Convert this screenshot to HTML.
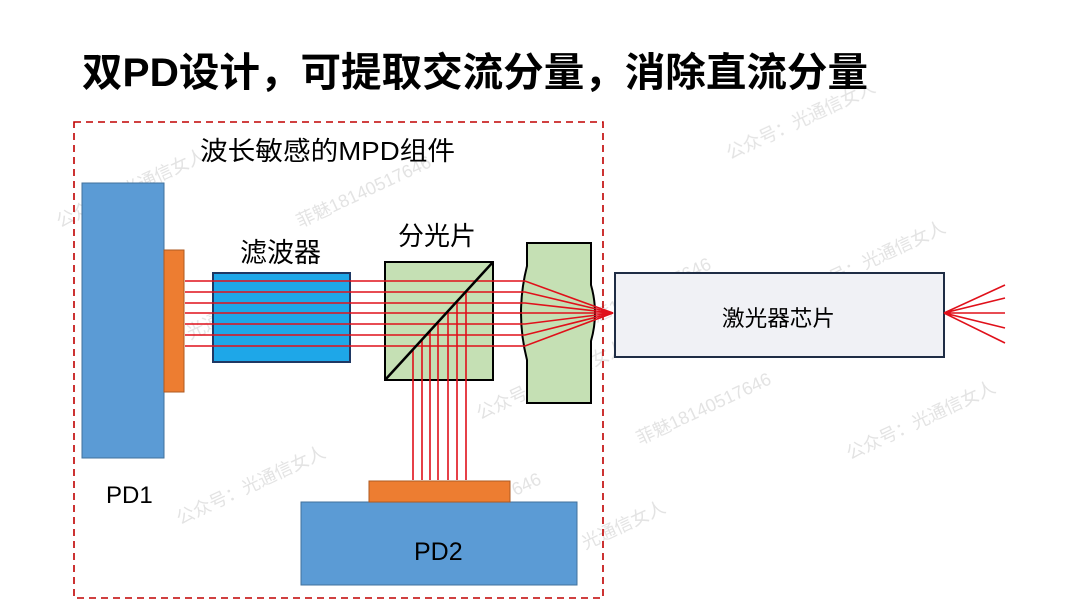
<!DOCTYPE html>
<html><head><meta charset="utf-8"><style>
html,body{margin:0;padding:0;background:#fff;}
svg{display:block;}
text{font-family:"Liberation Sans","Noto Sans CJK SC",sans-serif;}
</style></head><body>
<svg width="1080" height="607" viewBox="0 0 1080 607" xmlns="http://www.w3.org/2000/svg">
<rect width="1080" height="607" fill="#fff"/>
<g fill="#dcdcdc" font-size="18" font-family="Liberation Serif,Noto Serif CJK SC,serif" opacity="0.8">
<text transform="translate(60,228) rotate(-25)">公众号：光通信女人</text>
<text transform="translate(300,228) rotate(-25)">菲魅18140517646</text>
<text transform="translate(730,160) rotate(-25)">公众号：光通信女人</text>
<text transform="translate(580,330) rotate(-25)">菲魅18140517646</text>
<text transform="translate(800,300) rotate(-25)">公众号：光通信女人</text>
<text transform="translate(480,420) rotate(-25)">公众号：光通信女人</text>
<text transform="translate(640,445) rotate(-25)">菲魅18140517646</text>
<text transform="translate(850,460) rotate(-25)">公众号：光通信女人</text>
<text transform="translate(180,525) rotate(-25)">公众号：光通信女人</text>
<text transform="translate(410,545) rotate(-25)">菲魅18140517646</text>
<text transform="translate(520,580) rotate(-25)">公众号：光通信女人</text>
<text transform="translate(125,370) rotate(-25)">公众号：光通信女人</text>
</g>
<text x="82" y="86" font-size="40" font-weight="bold" fill="#000" textLength="786" lengthAdjust="spacingAndGlyphs">双PD设计，可提取交流分量，消除直流分量</text>
<rect x="74" y="122" width="529" height="476" fill="none" stroke="#c00000" stroke-width="1.6" stroke-dasharray="7,5"/>
<text x="200" y="160" font-size="26" fill="#000" textLength="255" lengthAdjust="spacingAndGlyphs">波长敏感的MPD组件</text>
<!-- PD1 -->
<rect x="82" y="183" width="82" height="275" fill="#5b9bd5" stroke="#41719c" stroke-width="1"/>
<rect x="164" y="250" width="20" height="142" fill="#ed7d31" stroke="#ae5a21" stroke-width="1"/>
<text x="106" y="503" font-size="24" fill="#000">PD1</text>
<!-- filter -->
<rect x="213" y="273" width="137" height="89" fill="#1ea7e8" stroke="#1f3864" stroke-width="2"/>
<text x="240" y="262" font-size="27" fill="#000">滤波器</text>
<!-- splitter -->
<rect x="385" y="262" width="108" height="118" fill="#c5e0b4" stroke="#000" stroke-width="2"/>
<text x="398" y="245" font-size="26" fill="#000">分光片</text>
<!-- lens -->
<path d="M527,243 L591,243 L591,285 Q599,313 591,341 L591,403 L527,403 L527,360 Q515,313 527,266 Z" fill="#c5e0b4" stroke="#000" stroke-width="2"/>
<!-- PD2 -->
<rect x="301" y="502" width="276" height="83" fill="#5b9bd5" stroke="#41719c" stroke-width="1"/>
<rect x="369" y="481" width="141" height="21" fill="#ed7d31" stroke="#ae5a21" stroke-width="1"/>
<text x="414" y="560" font-size="25" fill="#000">PD2</text>
<!-- laser chip -->
<rect x="615" y="273" width="329" height="84" fill="#f0f1f5" stroke="#1f2d45" stroke-width="2"/>
<text x="722" y="326" font-size="22" fill="#000" textLength="113" lengthAdjust="spacingAndGlyphs">激光器芯片</text>
<!-- beams -->
<g stroke="#e0101a" stroke-width="1.6" fill="none">
<path d="M185,281H525L613,313"/>
<path d="M185,292H525L613,313"/>
<path d="M185,303H525L613,313"/>
<path d="M185,313H613"/>
<path d="M185,324H525L613,313"/>
<path d="M185,335H525L613,313"/>
<path d="M185,346H525L613,313"/>
<path d="M413,350V480"/>
<path d="M422,340V480"/>
<path d="M430,331V480"/>
<path d="M438,322V480"/>
<path d="M448,311V480"/>
<path d="M457,301V480"/>
<path d="M466,292V480"/>
<path d="M1005,285L944,313L1005,298M944,313L1005,313M944,313L1005,328M944,313L1005,343"/>
</g>
<line x1="385" y1="380" x2="493" y2="262" stroke="#000" stroke-width="2.5"/>
</svg>
</body></html>
